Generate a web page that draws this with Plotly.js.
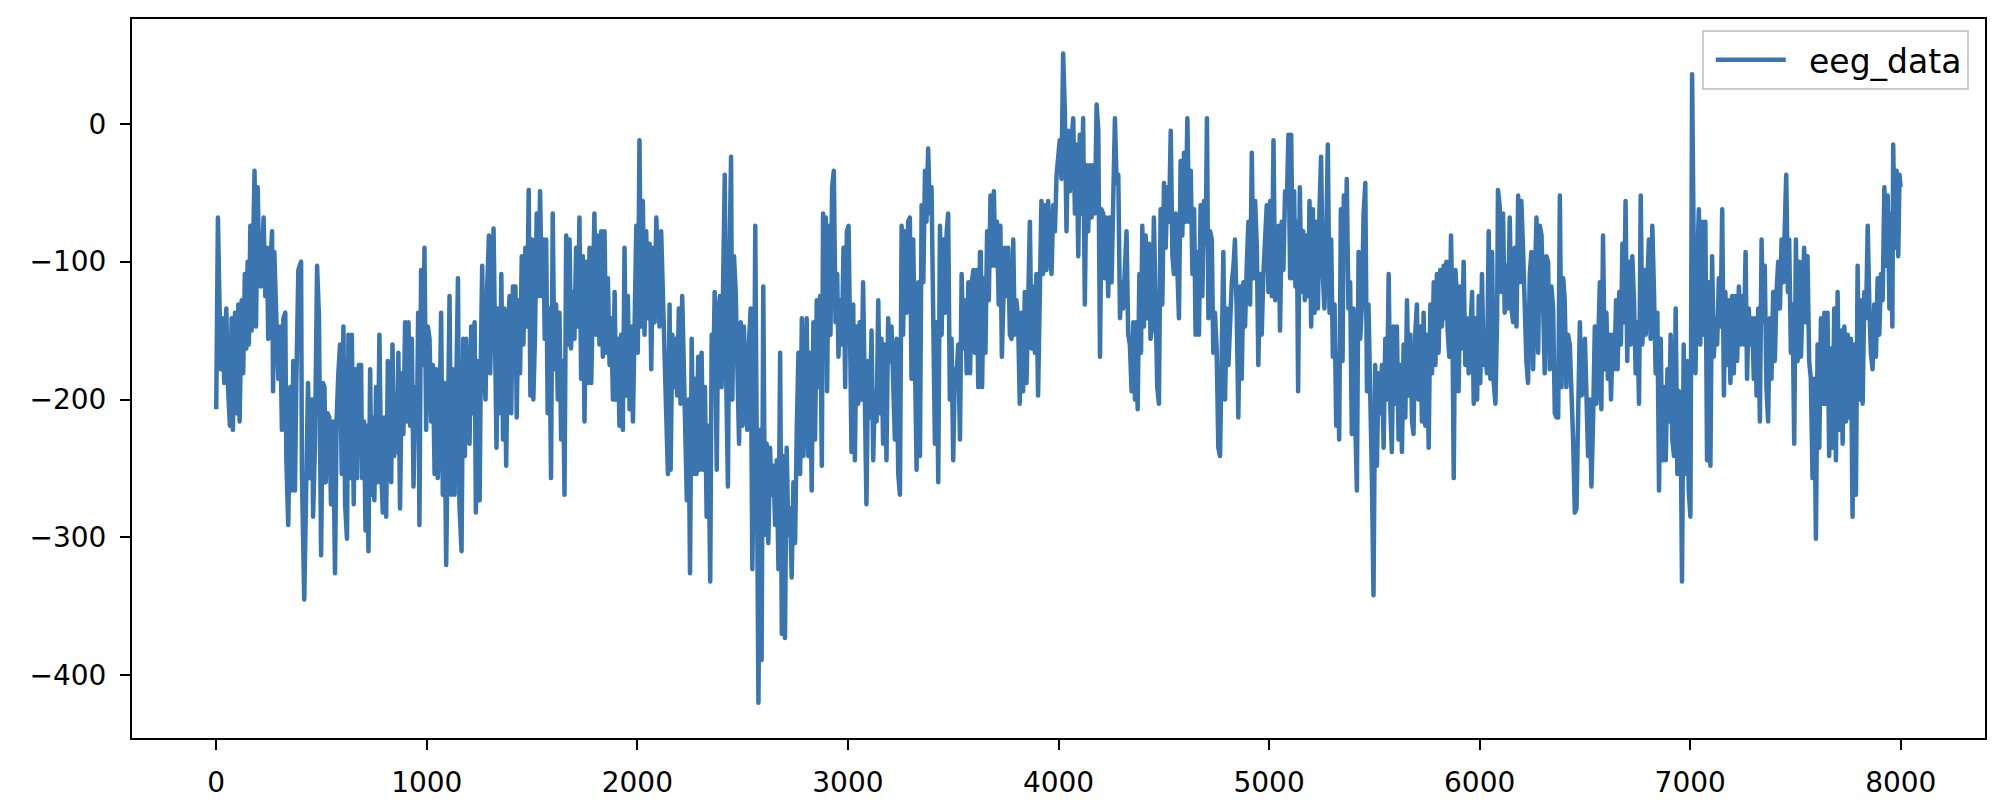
<!DOCTYPE html>
<html><head><meta charset="utf-8">
<script src="https://cdn.plot.ly/plotly-3.0.1.min.js"></script>
<style>html,body{margin:0;padding:0;background:#fff}#chart{width:2002px;height:812px}
.scatterlayer path.js-line{stroke-linejoin:round !important;}
.legend .legendlines path{transform:translate(8px,0px) scale(0.737,1);}</style>
</head><body><div id="chart"></div>
<script>
const seriesName = 'eeg_data';
const xTickValues = [0, 1000, 2000, 3000, 4000, 5000, 6000, 7000, 8000];
const yTickValues = [-400, -300, -200, -100, 0];

const sampleIndex = [
0,4,8,14,22,30,38,48,54,65,
73,79,89,97,105,111,121,128,136,143,
149,155,162,168,176,182,189,197,205,212,
225,233,241,247,255,265,270,276,284,295,
304,312,319,328,333,342,352,358,366,374,
380,390,403,407,418,426,436,445,455,460,
469,479,488,498,507,514,520,529,537,545,
555,564,572,580,588,596,604,612,621,628,
636,644,653,661,669,677,
688,693,702,709,715,723,731,737,743,751,
759,767,775,783,791,799,807,815,823,831,
837,845,851,859,865,873,881,889,897,905,
913,921,929,937,945,953,959,965,973,981,
989,997,1005,1013,1021,1029,1037,1045,1052,1060,
1068,1076,1084,1092,1100,1108,1116,1124,1132,1140,
1148,1155,1165,1173,1181,1187,1195,1203,1211,1219,
1227,1233,1241,1251,1257,1263,1271,1279,1287,1295,
1301,1309,1317,1325,1331,1338,1346,1354,1362,1369,
1377,1385,1393,1401,1409,
1421,1427,1435,1443,1451,1459,1468,1476,1484,1492,
1500,1506,1514,1522,1530,1538,1546,1554,1560,1567,
1574,1582,1590,1598,1606,1614,1622,1630,1638,1646,
1654,1662,1670,1678,1685,1693,1701,1709,1717,1725,
1733,1741,1749,1757,1765,1773,1781,1788,1796,1804,
1812,1820,1828,1836,1844,1852,1860,1868,1876,1884,
1892,1899,1907,1915,1923,1931,1939,1947,1955,1963,
1971,1979,1987,1995,2002,2010,2018,2026,2034,2042,
2050,2058,2066,2074,2082,2090,2098,2105,2113,2121,
2129,2137,2145,2153,
2158,2166,2174,2182,2189,2197,2205,2213,2221,2229,
2235,2243,2250,2258,2266,2273,2281,2289,2297,2305,
2313,2321,2329,2337,2346,2353,2361,2367,2377,2384,
2392,2400,2407,2415,2422,2430,2438,2445,2451,2459,
2467,2475,2483,2491,2499,2506,2514,2522,2530,2538,
2546,2554,2560,2568,2575,2583,2590,2598,2606,2614,
2622,2630,2638,2646,2654,2662,2670,2678,2686,2693,
2701,2709,2717,2725,2733,2741,2749,2757,2765,2773,
2781,2789,2797,2804,2812,2820,2828,2836,2844,2852,
2860,2868,2876,2882,2890,
2895,2901,2909,2917,2925,2933,2941,2949,2955,2963,
2971,2979,2987,2995,3003,3010,3017,3025,3033,3041,
3049,3056,3064,3072,3080,3088,3096,3104,3112,3120,
3128,3136,3144,3152,3159,3167,3175,3183,3191,3199,
3207,3215,3223,3231,3239,3247,3255,3262,3270,3278,
3286,3294,3302,3310,3318,3326,3334,3342,3350,3358,
3366,3373,3381,3389,3397,3405,3413,3421,3429,3437,
3445,3453,3461,3469,3476,3484,3492,3500,3508,3516,
3524,3532,3540,3548,3556,3564,3572,3580,3588,3596,
3603,3611,3619,3627,
3631,3637,3645,3653,3661,3669,3677,3685,3693,3700,
3708,3716,3724,3731,3737,3745,3753,3761,3769,3777,
3785,3792,3800,3808,3816,3824,3832,3840,3848,3856,
3864,3872,3880,3888,3895,3903,3911,3919,3927,3935,
3943,3951,3959,3967,3975,3983,3991,3999,4006,4014,
4022,4030,4038,4046,4054,4062,4070,4078,4086,4094,
4101,4109,4117,4125,4133,4141,4149,4157,4165,4173,
4181,4189,4197,4204,4212,4220,4228,4236,4244,4252,
4260,4268,4276,4284,4292,4300,4307,4315,4323,4331,
4339,4347,4355,4363,
4368,4376,4384,4392,4398,4406,4414,4422,4430,4437,
4445,4453,4461,4469,4477,4485,4493,4501,4509,4517,
4525,4533,4541,4548,4556,4564,4572,4580,4588,4596,
4604,4612,4620,4628,4636,4644,4651,4659,4667,4675,
4683,4691,4699,4705,4712,4720,4728,4735,4743,4751,
4759,4767,4775,4783,4791,4799,4807,4815,4823,4831,
4838,4846,4854,4862,4870,4878,4886,4894,4902,4910,
4918,4926,4934,4942,4949,4957,4965,4973,4981,4989,
4997,5005,5013,5021,5029,5037,5045,5052,5060,5068,
5076,5084,5092,5100,
5105,5113,5119,5125,5132,5138,5146,5154,5162,5170,
5178,5186,5192,5200,5208,5216,5224,5232,5239,5247,
5255,5263,5271,5279,5287,5295,5303,5311,5319,5327,
5333,5341,5349,5355,5363,5369,5377,5385,5393,5401,
5409,5417,5425,5433,5441,5449,5457,5465,5472,5480,
5488,5496,5504,5512,5520,5528,5536,5544,5552,5560,
5568,5576,5583,5591,5599,5607,5615,5623,5631,5639,
5647,5655,5663,5671,5679,5686,5694,5702,5710,5718,
5726,5734,5742,5750,5758,5766,5774,5782,5790,5797,
5805,5813,5821,5829,5837,
5842,5848,5856,5864,5870,5877,5885,5892,5900,5908,
5916,5924,5932,5940,5948,5956,5964,5972,5980,5988,
5996,6003,6011,6019,6027,6035,6043,6051,6059,6067,
6075,6083,6087,6095,6103,6111,6119,6127,6135,6143,
6151,6159,6167,6175,6183,6190,6198,6206,6214,6222,
6230,6238,6246,6254,6262,6270,6278,6286,6294,6301,
6309,6317,6325,6333,6341,6349,6357,6365,6373,6381,
6389,6397,6404,6412,6420,6428,6436,6444,6452,6460,
6468,6476,6484,6492,6500,6507,6515,6523,6531,6539,
6547,6555,6563,6571,
6578,6586,6594,6602,6609,6617,6624,6632,6640,6648,
6655,6663,6671,6678,6686,6693,6701,6709,6717,6725,
6733,6741,6749,6757,6765,6773,6781,6789,6797,6804,
6812,6820,6828,6836,6844,6852,6860,6868,6876,6884,
6892,6900,6907,6915,6923,6931,6939,6947,6955,6961,
6969,6977,6985,6993,7001,7009,7017,7025,7033,7041,
7048,7056,7064,7072,7080,7088,7096,7104,7112,7120,
7128,7136,7144,7152,7160,7167,7175,7183,7191,7199,
7207,7215,7223,7231,7239,7247,7255,7263,7270,7278,
7286,7294,7302,7310,
7315,7323,7331,7339,7346,7354,7362,7370,7378,7386,
7394,7402,7410,7418,7426,7434,7442,7449,7456,7464,
7470,7478,7486,7494,7502,7510,7518,7526,7534,7541,
7549,7557,7565,7573,7581,7589,7597,7605,7613,7621,
7629,7637,7644,7652,7660,7668,7676,7684,7692,7700,
7708,7716,7724,7732,7740,7748,7755,7763,7771,7779,
7787,7795,7803,7811,7819,7827,7835,7843,7851,7858,
7866,7874,7882,7890,7898,7906,7914,7922,7930,7938,
7946,7953,7960,7964,7972,7980,7988,7994,7999
];

const eegData = [
-207,-95,-68,-118,-178,-141,-188,-134,-185,-219,
-141,-222,-137,-210,-131,-216,-128,-181,-109,-163,
-100,-160,-74,-150,-71,-34,-147,-46,-115,-118,
-68,-125,-90,-156,-109,-78,-194,-93,-134,-185,
-147,-222,-141,-137,-244,-291,-191,-266,-172,-266,
-191,-106,-100,-254,-345,-254,-188,-257,-200,-285,
-232,-103,-141,-313,-188,-191,-260,-210,-213,-276,
-216,-326,-213,-181,-160,-254,-147,-276,-301,-153,
-257,-153,-276,-178,-257,-175,
-175,-257,-216,-295,-219,-310,-178,-269,-213,-273,
-191,-260,-153,-248,-282,-213,-285,-172,-244,-260,
-160,-241,-197,-238,-166,-279,-181,-225,-144,-216,
-144,-219,-156,-263,-191,-225,-137,-291,-106,-175,
-90,-222,-147,-156,-216,-175,-254,-178,-257,-222,
-137,-269,-188,-320,-222,-125,-269,-178,-269,-191,
-112,-276,-310,-156,-241,-156,-191,-232,-147,-210,
-144,-282,-172,-273,-166,-103,-181,-200,-118,-81,
-181,-134,-76,-166,-235,-134,-210,-109,-229,-134,
-248,-156,-125,-210,-118,
-118,-213,-128,-181,-96,-160,-90,-147,-48,-197,
-84,-200,-153,-65,-125,-49,-125,-84,-156,-84,
-210,-134,-257,-65,-178,-131,-200,-137,-229,-172,
-269,-81,-160,-84,-163,-122,-156,-90,-147,-68,
-185,-96,-216,-100,-188,-90,-188,-144,-65,-153,
-81,-160,-78,-169,-78,-166,-112,-175,-141,-200,
-122,-200,-156,-219,-153,-222,-90,-197,-125,-207,
-147,-216,-112,-74,-166,-12,-147,-56,-153,-78,
-141,-87,-178,-90,-144,-68,-103,-147,-78,-125,
-153,-213,-254,-131,
-251,-153,-191,-156,-197,-134,-203,-125,-185,-216,
-273,-200,-326,-156,-254,-185,-254,-169,-251,-166,
-251,-191,-285,-219,-332,-153,-181,-122,-251,-137,
-125,-191,-100,-37,-185,-263,-93,-24,-200,-96,
-122,-178,-232,-144,-219,-147,-178,-222,-160,-134,
-323,-222,-74,-317,-420,-222,-389,-118,-298,-232,
-304,-235,-269,-248,-291,-244,-323,-166,-370,-241,
-373,-235,-298,-279,-329,-260,-304,-222,-166,-254,
-141,-241,-185,-141,-241,-166,-266,-144,-229,-128,
-191,-125,-248,-65,-115,
-68,-194,-74,-153,-46,-34,-144,-109,-169,-128,
-160,-90,-191,-78,-74,-153,-238,-131,-244,-147,
-203,-144,-200,-115,-207,-276,-172,-213,-150,-244,
-194,-216,-128,-210,-156,-232,-160,-244,-141,-172,
-147,-181,-229,-156,-254,-269,-74,-153,-78,-137,
-71,-68,-185,-84,-200,-251,-115,-241,-59,-115,
-34,-71,-18,-65,-46,-163,-232,-144,-260,-74,
-153,-84,-137,-78,-65,-200,-156,-244,-178,-181,
-160,-229,-109,-163,-128,-181,-115,-181,-115,-106,
-166,-106,-191,-93,
-93,-191,-112,-166,-78,-128,-52,-103,-49,-103,
-71,-131,-74,-169,-134,-90,-125,-90,-153,-156,
-84,-153,-128,-141,-203,-137,-194,-122,-188,-100,
-71,-163,-118,-166,-109,-197,-100,-56,-109,-59,
-106,-56,-87,-109,-59,-78,-37,-27,-12,-40,
51,10,-78,-5,-49,-12,4,-65,-15,-96,
-8,-65,4,-131,-30,-78,-30,-68,-30,-65,
14,-5,-169,-62,-65,-112,-68,-125,-68,-115,
-49,4,-43,-37,-141,-115,-134,-112,-78,-153,
-160,-194,-144,-200,
-144,-207,-109,-166,-74,-147,-81,-141,-87,-156,
-147,-68,-141,-191,-203,-62,-131,-43,-90,-46,
-71,-5,-96,-109,-65,-118,-141,-27,-81,-21,
-71,4,-71,-34,-109,-62,-153,-93,-153,-59,
-125,-56,-87,4,-141,-78,-84,-166,-137,-163,
-235,-241,-144,-93,-200,-134,-175,-137,-115,-103,
-84,-134,-213,-118,-185,-115,-147,-103,-71,-131,
-21,-112,-56,-90,-175,-109,-153,-109,-87,-59,
-122,-56,-125,-12,-128,-78,-74,-150,-71,-106,
-49,-59,-8,-112,
-8,-112,-49,-118,-71,-194,-46,-122,-78,-128,
-81,-125,-56,-147,-62,-137,-71,-134,-65,-24,
-109,-134,-90,-15,-137,-84,-169,-131,-219,-166,
-229,-62,-172,-52,-96,-40,-134,-115,-225,-134,
-213,-266,-93,-156,-131,-65,-43,-194,-131,-178,
-254,-342,-175,-248,-181,-210,-175,-235,-156,-200,
-109,-207,-238,-147,-203,-147,-229,-175,-238,-160,
-213,-128,-197,-153,-216,-225,-153,-131,-200,-147,
-216,-137,-219,-153,-235,-131,-181,-115,-175,-109,
-166,-106,-147,-103,-141,
-100,-150,-169,-81,-131,-257,-106,-125,-194,-118,
-163,-100,-175,-141,-181,-141,-122,-203,-141,-200,
-125,-188,-109,-175,-166,-181,-78,-185,-93,-188,
-203,-141,-48,-59,-122,-65,-137,-103,-134,-68,
-134,-144,-90,-147,-52,-115,-56,-90,-150,-172,
-188,-109,-93,-178,-115,-68,-166,-74,-81,-134,
-181,-96,-100,-178,-118,-134,-210,-213,-213,-52,
-191,-112,-128,-191,-153,-160,-191,-229,-282,-279,
-210,-144,-197,-194,-156,-207,-241,-200,-263,-213,
-147,-203,-166,-115,
-207,-81,-178,-137,-185,-153,-200,-153,-178,-128,
-178,-122,-160,-87,-144,-56,-172,-100,-160,-96,
-128,-181,-144,-203,-52,-160,-106,-153,-112,-84,
-156,-74,-122,-181,-137,-266,-156,-244,-191,-244,
-178,-216,-153,-229,-241,-134,-254,-194,-222,-332,
-160,-254,-172,-266,-285,36,-96,-181,-106,-62,
-160,-71,-153,-71,-244,-115,-248,-96,-169,-141,
-160,-112,-147,-62,-197,-122,-175,-128,-188,-125,
-181,-125,-172,-118,-160,-125,-160,-93,-185,-134,
-160,-141,-185,-141,
-197,-134,-216,-84,-144,-103,-191,-216,-141,-185,
-122,-172,-122,-100,-134,-84,-115,-65,-37,-122,
-84,-166,-131,-232,-84,-172,-100,-169,-122,-90,
-144,-96,-172,-185,-257,-185,-301,-160,-235,-141,
-203,-137,-203,-137,-241,-163,-235,-134,-244,-122,
-222,-150,-232,-147,-216,-153,-213,-156,-285,-160,
-269,-103,-200,-128,-203,-122,-141,-74,-134,-166,
-178,-131,-169,-112,-153,-109,-128,-46,-103,-52,
-134,-65,-147,-15,-90,-34,-96,-37,-46
];

const layout = {
  width: 2002, height: 812,
  margin: {l: 132, r: 17, t: 19, b: 74, pad: 0},
  paper_bgcolor: '#ffffff', plot_bgcolor: '#ffffff',
  font: {family: 'DejaVu Sans', size: 28, color: '#000000'},
  showlegend: true,
  legend: {
    x: 0.9914, xanchor: 'right', y: 0.985, yanchor: 'top',
    bgcolor: 'rgba(255,255,255,0.8)', bordercolor: '#cccccc', borderwidth: 2,
    itemwidth: 95,
    font: {family: 'DejaVu Sans', size: 33, color: '#000000'}
  },
  xaxis: {
    range: [-400, 8400], tickvals: xTickValues, tickmode: 'array',
    ticks: 'outside', ticklen: 10, tickwidth: 2, tickcolor: '#000000',
    showline: true, linecolor: '#000000', linewidth: 2, mirror: true,
    showgrid: false, zeroline: false, ticklabelstandoff: 8,
    tickfont: {family: 'DejaVu Sans', size: 28, color: '#000000'}
  },
  yaxis: {
    range: [-445.5, 76], tickvals: yTickValues, tickmode: 'array',
    ticks: 'outside', ticklen: 10, tickwidth: 2, tickcolor: '#000000',
    showline: true, linecolor: '#000000', linewidth: 2, mirror: true,
    showgrid: false, zeroline: false, ticklabelstandoff: 8,
    tickfont: {family: 'DejaVu Sans', size: 28, color: '#000000'}
  }
};

const traces = [{
  x: sampleIndex, y: eegData, type: 'scatter', mode: 'lines', name: seriesName,
  line: {color: '#3a75b0', width: 4.5}
}];

Plotly.newPlot('chart', traces, layout, {staticPlot: true, displayModeBar: false});
</script>
</body></html>
